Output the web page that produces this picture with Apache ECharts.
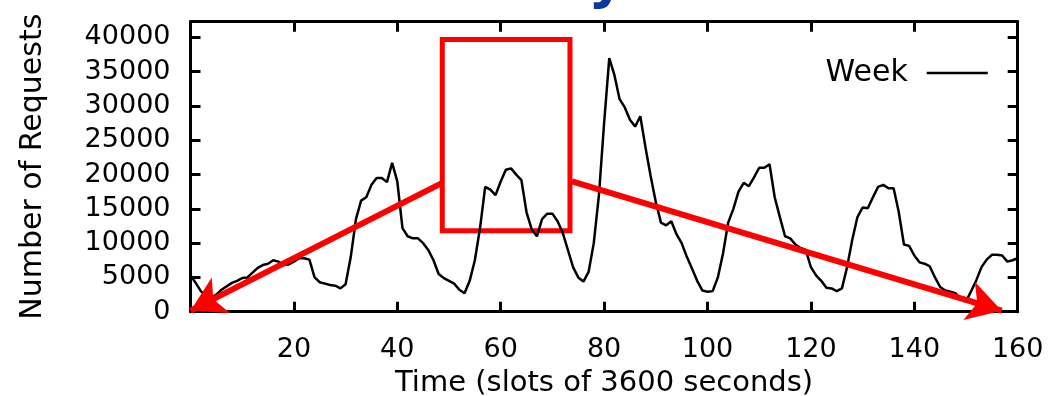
<!DOCTYPE html>
<html>
<head>
<meta charset="utf-8">
<script src="https://cdn.jsdelivr.net/npm/echarts@6/dist/echarts.min.js"></script>
<style>
  html, body { margin: 0; padding: 0; background: #fff; }
  #chart { width: 1049px; height: 396px; }
</style>
</head>
<body>
<div id="chart"></div>
<script>
// requests per hourly slot, slot 0 .. 160
const requests = [
  5300, 4200, 3000, 2300, 2000, 2500, 3200, 3700, 4200, 4500,
  4900, 5000, 5700, 6400, 6800, 7000, 7500, 7300, 6800, 6900,
  7300, 7800, 7800, 7600, 5000, 4300, 4100, 3900, 3800, 3400,
  4000, 8000, 13500, 16200, 16700, 18500, 19500, 19500, 18900, 21700,
  19000, 12200, 11000, 10700, 10700, 10000, 9000, 7500, 5500, 4900,
  4500, 4100, 3200, 2700, 4500, 7500, 12200, 18200, 17800, 17000,
  19000, 20700, 20900, 20000, 19200, 14500, 12000, 11000, 13500, 14300,
  14300, 13200, 11500, 9000, 6500, 5000, 4400, 5800, 10000, 17000,
  27500, 37000, 34500, 31000, 29800, 28000, 27000, 28500, 24000, 19800,
  16000, 13000, 12600, 13200, 11300, 10000, 8000, 6300, 4500, 3100,
  2900, 3000, 5000, 8500, 13000, 15000, 17500, 18800, 18300, 19600,
  21000, 21000, 21500, 16700, 13800, 11000, 10700, 9800, 9300, 9000,
  6500, 5300, 4500, 3500, 3400, 3000, 3400, 6500, 10500, 13800,
  15200, 15100, 16700, 18200, 18500, 18000, 18000, 14500, 9800, 9600,
  8200, 7200, 7000, 6600, 5000, 3600, 3100, 2900, 2700, 1800,
  1500, 3000, 4600, 6500, 7600, 8300, 8300, 8200, 7300, 7500,
  7800
];
const seriesName = 'Week';
const xTickLabels = [20, 40, 60, 80, 100, 120, 140, 160];
const yTickLabels = [0, 5000, 10000, 15000, 20000, 25000, 30000, 35000, 40000];

// red overlay, in data units: box corners, then arrow start/end
const boxCorners = [[48.7, 39700], [73.4, 11800]];
const arrowLeft = [[48.7, 18800], [0, 150]];
const arrowRight = [[73.8, 19000], [156.9, 150]];

const chart = echarts.init(document.getElementById('chart'));
const font = '"DejaVu Sans", sans-serif';

const tickStyle = { show: true, inside: true, length: 10, lineStyle: { color: '#000', width: 3 } };
const lineStyle = { show: true, onZero: false, lineStyle: { color: '#000', width: 3 } };

chart.setOption({
  backgroundColor: '#fff',
  animation: false,
  grid: { left: 190.5, right: 31.3, top: 21.7, bottom: 84.3, containLabel: false, outerBoundsMode: 'none' },
  legend: {
    data: [seriesName],
    right: 55, top: 53,
    align: 'right',
    itemWidth: 61, itemHeight: 30,
    itemStyle: { opacity: 0 },
    lineStyle: { color: '#000', width: 2.5 },
    textStyle: { fontFamily: font, fontSize: 30, color: '#000', padding: [0, 14, 0, 0] }
  },
  graphic: [{
    type: 'text', left: 588, top: -47,
    style: { text: 'y', font: 'bold 58px ' + font, fill: '#0b3a9a' }
  }],
  xAxis: [{
    type: 'value', min: 0, max: 160, interval: 20,
    name: 'Time (slots of 3600 seconds)',
    nameLocation: 'middle', nameGap: 56,
    nameTextStyle: { fontFamily: font, fontSize: 29, color: '#000' },
    axisLine: lineStyle, axisTick: tickStyle, splitLine: { show: false },
    axisLabel: {
      margin: 25, fontFamily: font, fontSize: 27, color: '#000',
      formatter: v => xTickLabels.includes(v) ? String(v) : ''
    }
  }, {
    type: 'value', position: 'top', min: 0, max: 160, interval: 20,
    axisLine: lineStyle, axisTick: tickStyle, splitLine: { show: false },
    axisLabel: { show: false }
  }],
  yAxis: [{
    type: 'value', min: 0, max: 42300, interval: 5000,
    name: 'Number of Requests',
    nameLocation: 'middle', nameGap: 142,
    nameTextStyle: { fontFamily: font, fontSize: 30, color: '#000' },
    axisLine: lineStyle, axisTick: tickStyle, splitLine: { show: false },
    axisLabel: {
      margin: 20, fontFamily: font, fontSize: 27, color: '#000',
      formatter: v => yTickLabels.includes(v) ? String(v) : ''
    }
  }, {
    type: 'value', position: 'right', min: 0, max: 42300, interval: 5000,
    axisLine: lineStyle, axisTick: tickStyle, splitLine: { show: false },
    axisLabel: { show: false }
  }],
  series: [{
    name: seriesName,
    type: 'line',
    z: 3,
    symbol: 'none',
    lineStyle: { color: '#000', width: 2.5 },
    itemStyle: { color: '#000' },
    data: requests.map((v, i) => [i, v])
  }, {
    name: 'overlay',
    type: 'line',
    z: 2,
    symbol: 'none',
    data: [],
    markArea: {
      silent: true,
      itemStyle: { color: 'rgba(0,0,0,0)', borderColor: '#ff0000', borderWidth: 5 },
      label: { show: false },
      data: [[{ coord: boxCorners[0] }, { coord: boxCorners[1] }]]
    },
    markLine: {
      silent: true,
      symbol: ['none', 'arrow'],
      symbolSize: [30, 34],
      label: { show: false },
      lineStyle: { color: '#ff0000', width: 6, type: 'solid' },
      data: [
        [{ coord: arrowLeft[0] }, { coord: arrowLeft[1] }],
        [{ coord: arrowRight[0] }, { coord: arrowRight[1] }]
      ]
    }
  }]
});
</script>
</body>
</html>
